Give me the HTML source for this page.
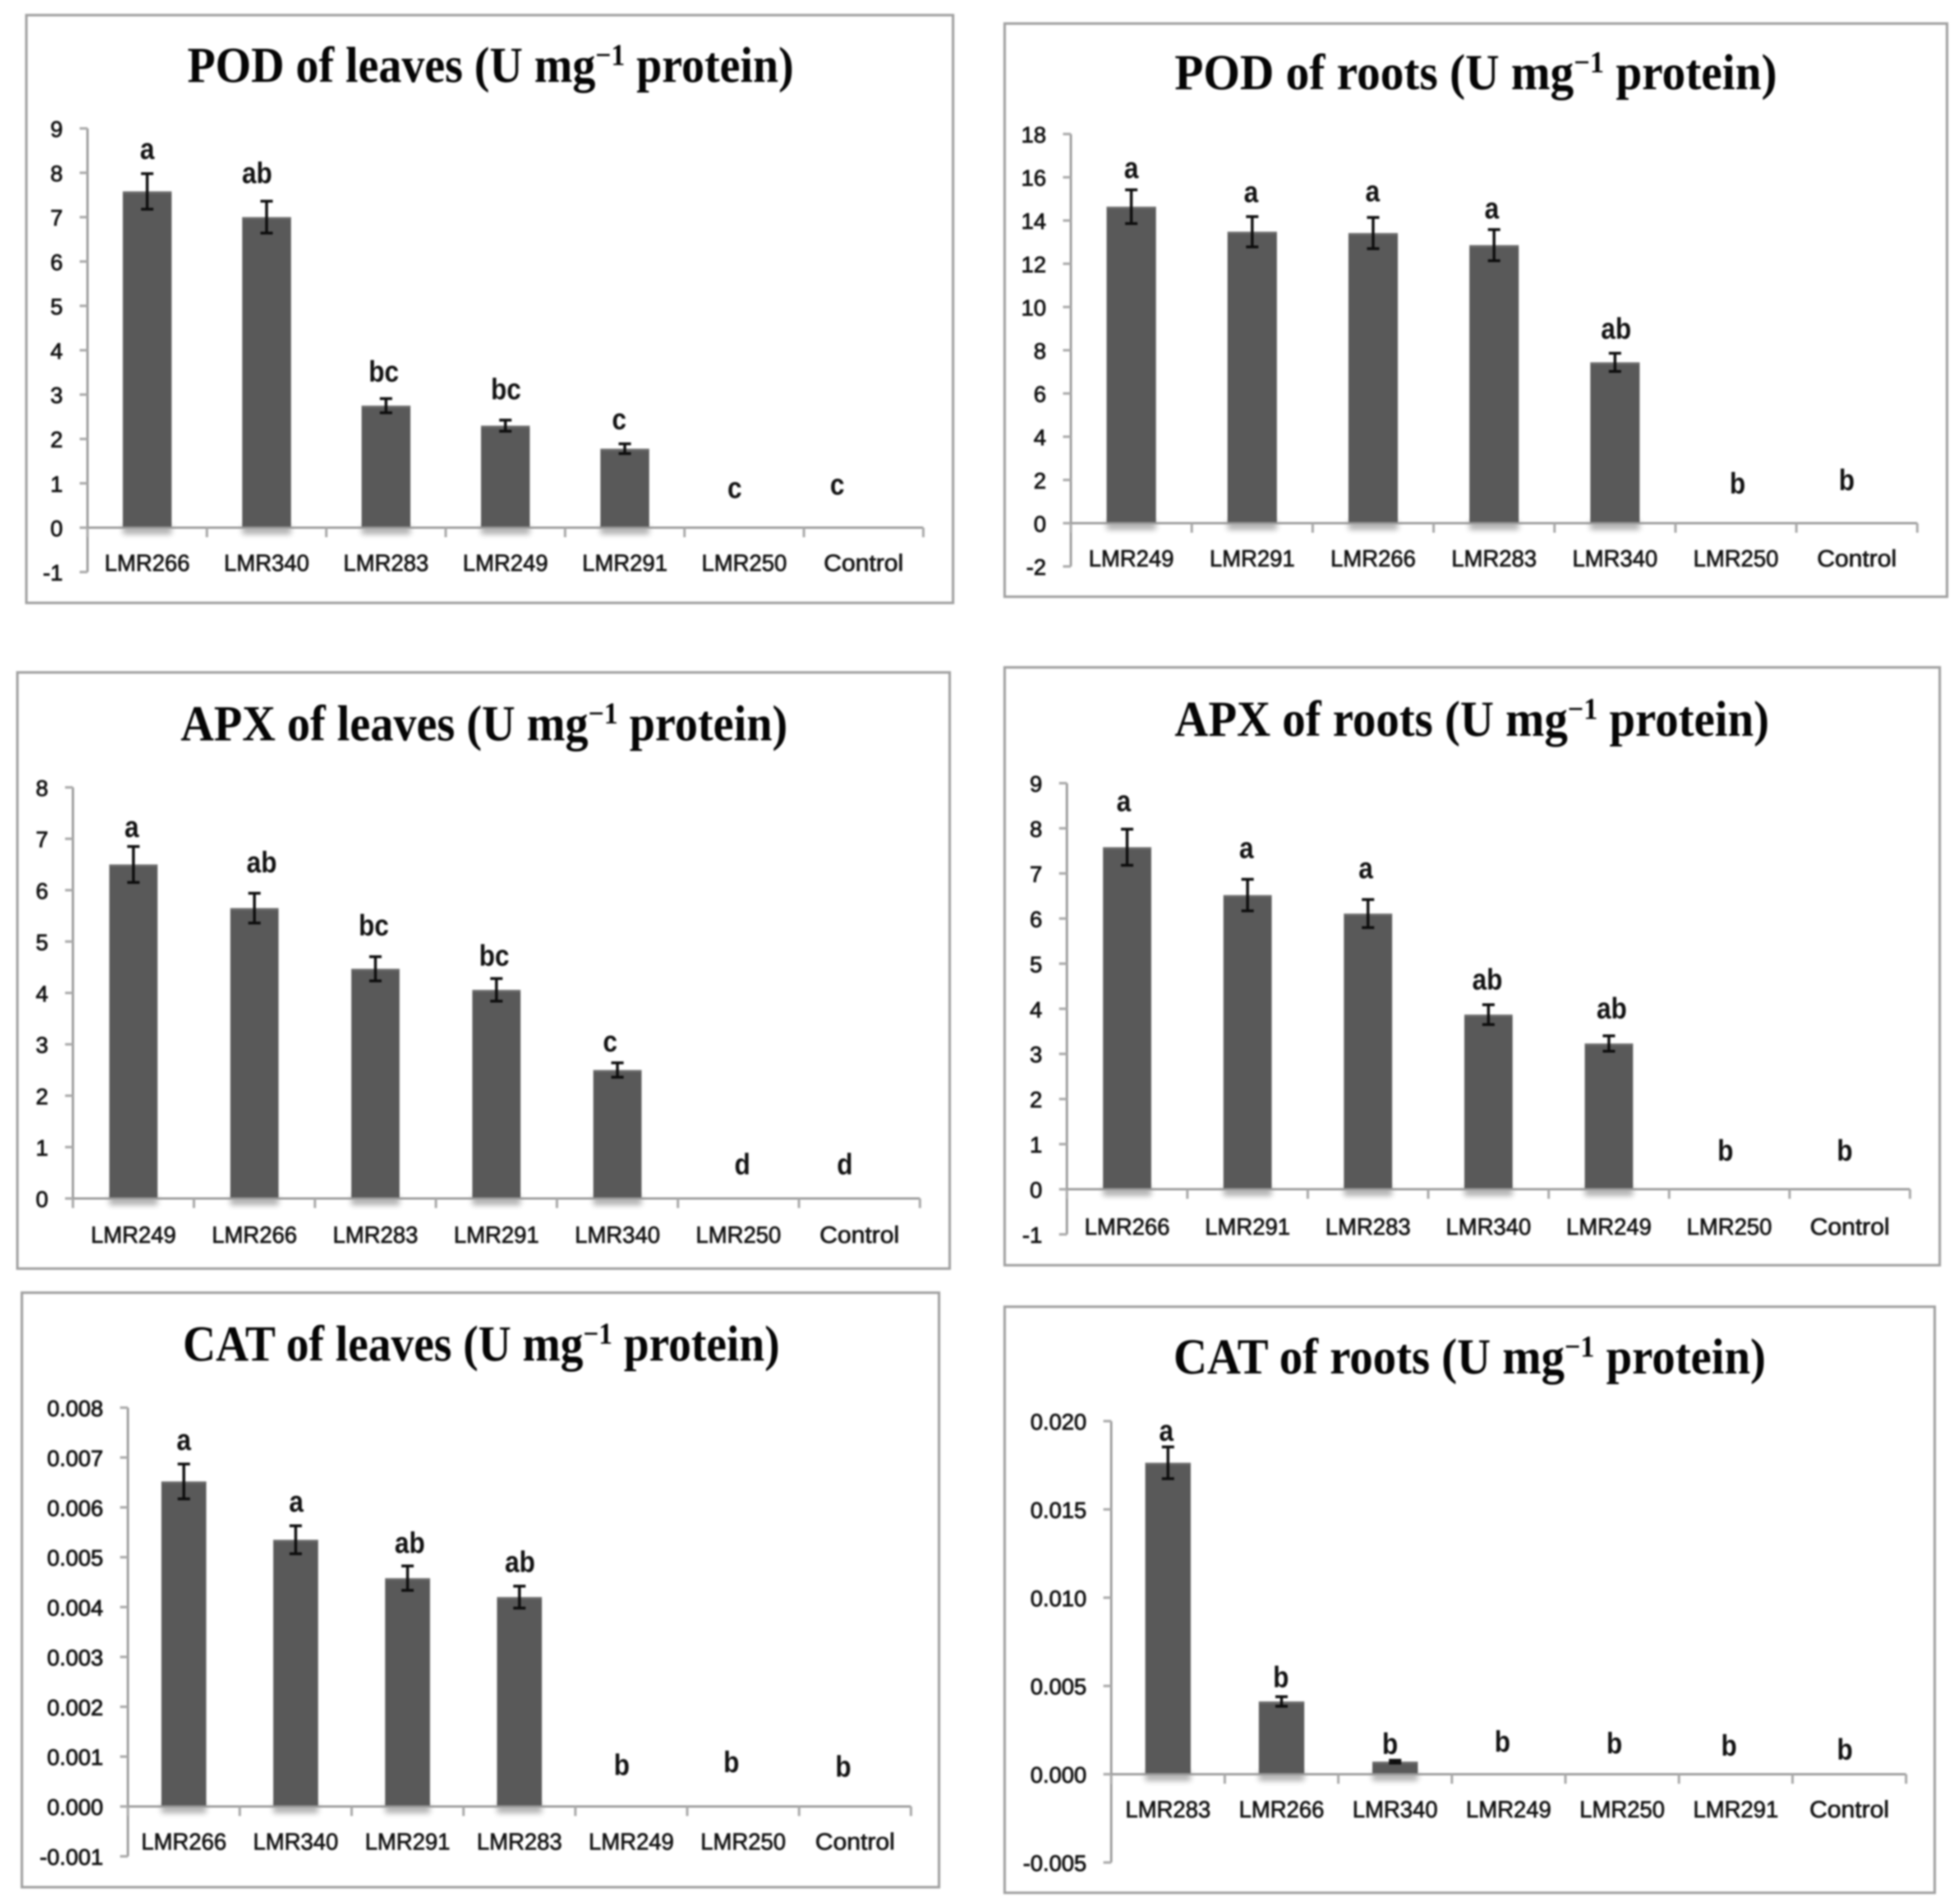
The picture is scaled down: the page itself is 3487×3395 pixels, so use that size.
<!DOCTYPE html>
<html lang="en">
<head>
<meta charset="utf-8">
<title>POD, APX and CAT of leaves and roots</title>
<style>
html,body{margin:0;padding:0;background:#fff;width:3487px;height:3395px;overflow:hidden}
#figure{display:block;filter:blur(1.5px)}
.frame{fill:#fff;stroke:#a0a0a0;stroke-width:4.5}
.title{font-family:"Liberation Serif",serif;font-weight:700;font-size:90px;fill:#050505}
.title tspan.sup{font-size:54px}
.xl{font-family:"Liberation Sans",sans-serif;font-size:42px;fill:#141414;text-anchor:middle;stroke:#141414;stroke-width:1.1}
.yl{font-family:"Liberation Sans",sans-serif;font-size:40px;fill:#111;text-anchor:end;stroke:#111;stroke-width:1.2}
.letter{font-family:"Liberation Sans",sans-serif;font-weight:700;font-size:53px;fill:#111;text-anchor:middle}
.axis{stroke:#989898;stroke-width:4;fill:none}
.tick{stroke:#aaaaaa;stroke-width:4.5;fill:none}
.bar{fill:#595959}
.bar-top{fill:#6c6c6c}
.shadow{fill:#000;opacity:.3;filter:blur(5px)}
.err{stroke:#0d0d0d;stroke-width:5;fill:none}
</style>
</head>
<body>
<svg id="figure" xmlns="http://www.w3.org/2000/svg" width="3487" height="3395" viewBox="0 0 3487 3395">
  <g id="pod-leaves">
    <rect class="frame" x="47" y="27" width="1652" height="1048"/>
    <text class="title" x="334" y="146" textLength="1081" lengthAdjust="spacingAndGlyphs">POD of leaves (U mg<tspan class="sup" dy="-30">−1</tspan><tspan dy="30"> protein)</tspan></text>
  </g>
  <g id="pod-roots">
    <rect class="frame" x="1791" y="42" width="1680" height="1022"/>
    <text class="title" x="2094" y="159" textLength="1074" lengthAdjust="spacingAndGlyphs">POD of roots (U mg<tspan class="sup" dy="-30">−1</tspan><tspan dy="30"> protein)</tspan></text>
  </g>
  <g id="apx-leaves">
    <rect class="frame" x="31" y="1199" width="1662" height="1063"/>
    <text class="title" x="322" y="1320" textLength="1082" lengthAdjust="spacingAndGlyphs">APX of leaves (U mg<tspan class="sup" dy="-30">−1</tspan><tspan dy="30"> protein)</tspan></text>
  </g>
  <g id="apx-roots">
    <rect class="frame" x="1791" y="1190" width="1667" height="1066"/>
    <text class="title" x="2094" y="1312" textLength="1060" lengthAdjust="spacingAndGlyphs">APX of roots (U mg<tspan class="sup" dy="-30">−1</tspan><tspan dy="30"> protein)</tspan></text>
  </g>
  <g id="cat-leaves">
    <rect class="frame" x="39" y="2305" width="1635" height="1060"/>
    <text class="title" x="326" y="2426" textLength="1064" lengthAdjust="spacingAndGlyphs">CAT of leaves (U mg<tspan class="sup" dy="-30">−1</tspan><tspan dy="30"> protein)</tspan></text>
  </g>
  <g id="cat-roots">
    <rect class="frame" x="1791" y="2330" width="1658" height="1045"/>
    <text class="title" x="2092" y="2449" textLength="1056" lengthAdjust="spacingAndGlyphs">CAT of roots (U mg<tspan class="sup" dy="-30">−1</tspan><tspan dy="30"> protein)</tspan></text>
  </g>
</svg>
<script>
/* POD of leaves */
const podLeavesCategories = ['LMR266','LMR340','LMR283','LMR249','LMR291','LMR250','Control'];
const podLeavesValues = [7.58, 7.0, 2.75, 2.3, 1.78, 0, 0];
const podLeavesErrors = [0.4, 0.36, 0.16, 0.125, 0.11, 0, 0];
const podLeavesLetters = ['a','ab','bc','bc','c','c','c'];
const podLeavesTicks = ['-1','0','1','2','3','4','5','6','7','8','9'];
/* POD of roots */
const podRootsCategories = ['LMR249','LMR291','LMR266','LMR283','LMR340','LMR250','Control'];
const podRootsValues = [14.64, 13.48, 13.42, 12.86, 7.44, 0, 0];
const podRootsErrors = [0.78, 0.7, 0.72, 0.72, 0.42, 0, 0];
const podRootsLetters = ['a','a','a','a','ab','b','b'];
const podRootsTicks = ['-2','0','2','4','6','8','10','12','14','16','18'];
/* APX of leaves */
const apxLeavesCategories = ['LMR249','LMR266','LMR283','LMR291','LMR340','LMR250','Control'];
const apxLeavesValues = [6.5, 5.65, 4.47, 4.06, 2.5, 0, 0];
const apxLeavesErrors = [0.35, 0.29, 0.235, 0.22, 0.14, 0, 0];
const apxLeavesLetters = ['a','ab','bc','bc','c','d','d'];
const apxLeavesTicks = ['0','1','2','3','4','5','6','7','8'];
/* APX of roots */
const apxRootsCategories = ['LMR266','LMR291','LMR283','LMR340','LMR249','LMR250','Control'];
const apxRootsValues = [7.58, 6.52, 6.11, 3.87, 3.23, 0, 0];
const apxRootsErrors = [0.4, 0.35, 0.31, 0.22, 0.17, 0, 0];
const apxRootsLetters = ['a','a','a','ab','ab','b','b'];
const apxRootsTicks = ['-1','0','1','2','3','4','5','6','7','8','9'];
/* CAT of leaves */
const catLeavesCategories = ['LMR266','LMR340','LMR291','LMR283','LMR249','LMR250','Control'];
const catLeavesValues = [0.00652, 0.00535, 0.00458, 0.0042, 0, 0, 0];
const catLeavesErrors = [0.00035, 0.00028, 0.000245, 0.00022, 0, 0, 0];
const catLeavesLetters = ['a','a','ab','ab','b','b','b'];
const catLeavesTicks = ['-0.001','0.000','0.001','0.002','0.003','0.004','0.005','0.006','0.007','0.008'];
/* CAT of roots */
const catRootsCategories = ['LMR283','LMR266','LMR340','LMR249','LMR250','LMR291','Control'];
const catRootsValues = [0.01764, 0.00412, 0.00071, 0, 0, 0, 0];
const catRootsErrors = [0.0009, 0.00027, 0.00008, 0, 0, 0, 0];
const catRootsLetters = ['a','b','b','b','b','b','b'];
const catRootsTicks = ['-0.005','0.000','0.005','0.010','0.015','0.020'];

const SVGNS = 'http://www.w3.org/2000/svg';

function makeEl(tag, parent, cls) {
  const el = document.createElementNS(SVGNS, tag);
  if (cls) el.setAttribute('class', cls);
  parent.appendChild(el);
  return el;
}
function setLine(el, x1, y1, x2, y2) {
  el.setAttribute('x1', x1);
  el.setAttribute('y1', y1);
  el.setAttribute('x2', x2);
  el.setAttribute('y2', y2);
}

function drawChart(groupId, categories, values, errors, letters, ticks, frame) {
  const g = document.getElementById(groupId);
  const tickNums = ticks.map(Number);
  const vMin = Math.min.apply(null, tickNums);
  const vMax = Math.max.apply(null, tickNums);
  const yScale = function (v) {
    return frame.bottom - (v - vMin) / (vMax - vMin) * (frame.bottom - frame.top);
  };
  const band = (frame.right - frame.left) / categories.length;
  const xScale = function (i) {
    return frame.left + band * (i + 0.5);
  };
  const zero = yScale(0);

  /* bars first, so axes sit on top of the bar feet */
  values.forEach(function (v, i) {
    if (v <= 0) return;
    const cx = xScale(i);
    const top = yScale(v);
    const shadow = makeEl('rect', g, 'shadow');
    
    
    shadow.setAttribute('x', cx - frame.barWidth / 2);
    shadow.setAttribute('y', zero - 4);
    shadow.setAttribute('width', frame.barWidth);
    shadow.setAttribute('height', 16);
    const bar = makeEl('rect', g, 'bar');
    
    
    bar.setAttribute('x', cx - frame.barWidth / 2);
    bar.setAttribute('y', top);
    bar.setAttribute('width', frame.barWidth);
    bar.setAttribute('height', zero - top);
    const sheen = makeEl('rect', g, 'bar-top');
    
    
    sheen.setAttribute('x', cx - frame.barWidth / 2);
    sheen.setAttribute('y', top);
    sheen.setAttribute('width', frame.barWidth);
    sheen.setAttribute('height', 4);
  });

  /* y axis */
  const yAxis = makeEl('line', g, 'axis');
  
  
  setLine(yAxis, frame.left, frame.top, frame.left, frame.bottom);
  ticks.forEach(function (label, i) {
    const y = yScale(tickNums[i]);
    const tick = makeEl('line', g, 'tick');
    
    
    setLine(tick, frame.left - 14, y, frame.left, y);
    const text = makeEl('text', g, 'yl');
    
    
    text.setAttribute('x', frame.left - 44);
    text.setAttribute('y', y + 15);
    text.textContent = label;
  });

  /* x axis */
  const xAxis = makeEl('line', g, 'axis');
  
  
  setLine(xAxis, frame.left, zero, frame.right, zero);
  for (let i = 0; i <= categories.length; i++) {
    const x = frame.left + band * i;
    const tick = makeEl('line', g, 'tick');
    
    
    setLine(tick, x, zero, x, zero + 17);
  }
  categories.forEach(function (name, i) {
    const text = makeEl('text', g, 'xl');
    
    
    text.setAttribute('x', xScale(i));
    text.setAttribute('y', zero + frame.labelDrop);
    text.setAttribute('textLength', name === 'Control' ? 142 : 152);
    text.setAttribute('lengthAdjust', 'spacingAndGlyphs');
    text.textContent = name;
  });

  /* error bars and significance letters */
  values.forEach(function (v, i) {
    const cx = xScale(i);
    const e = errors[i];
    if (e > 0) {
      const hi = yScale(v + e);
      const lo = yScale(v - e);
      const stem = makeEl('line', g, 'err');
      
      
      setLine(stem, cx, hi, cx, lo);
      const capTop = makeEl('line', g, 'err');
      
      
      setLine(capTop, cx - 11, hi, cx + 11, hi);
      const capBottom = makeEl('line', g, 'err');
      
      
      setLine(capBottom, cx - 11, lo, cx + 11, lo);
    }
    const text = makeEl('text', g, 'letter');
    
    
    const lx = cx + frame.letterDx[i];
    const ly = yScale(v + e) - frame.letterGap[i] + 15;
    text.setAttribute('transform', 'translate(' + lx + ',' + ly + ') scale(0.87,1)');
    text.textContent = letters[i];
  });
}

drawChart('pod-leaves', podLeavesCategories, podLeavesValues, podLeavesErrors, podLeavesLetters, podLeavesTicks,
  {left:156, right:1646, top:229, bottom:1020, barWidth:87, labelDrop:77,
   letterDx:[0,-17,-4,1,-10,-17,-47], letterGap:[41,47,45,52,41,68,74]});
drawChart('pod-roots', podRootsCategories, podRootsValues, podRootsErrors, podRootsLetters, podRootsTicks,
  {left:1909, right:3418, top:239, bottom:1010, barWidth:88, labelDrop:77,
   letterDx:[0,-2,-1,-4,2,3,-18], letterGap:[36,41,44,35,41,68,74]});
drawChart('apx-leaves', apxLeavesCategories, apxLeavesValues, apxLeavesErrors, apxLeavesLetters, apxLeavesTicks,
  {left:130, right:1640, top:1404, bottom:2137, barWidth:86, labelDrop:79,
   letterDx:[-3,13,-3,-4,-13,7,-26], letterGap:[32,52,53,38,35,58,58]});
drawChart('apx-roots', apxRootsCategories, apxRootsValues, apxRootsErrors, apxRootsLetters, apxRootsTicks,
  {left:1902, right:3405, top:1396.5, bottom:2201, barWidth:86, labelDrop:81,
   letterDx:[-6,-2,-4,-2,5,-7,-9], letterGap:[47,53,53,42,46,66,66]});
drawChart('cat-leaves', catLeavesCategories, catLeavesValues, catLeavesErrors, catLeavesLetters, catLeavesTicks,
  {left:228, right:1624, top:2510, bottom:3310, barWidth:80, labelDrop:77,
   letterDx:[0,1,4,1,-17,-21,-21], letterGap:[40,40,38,40,71,76,68]});
drawChart('cat-roots', catRootsCategories, catRootsValues, catRootsErrors, catRootsLetters, catRootsTicks,
  {left:1981, right:3398, top:2534, bottom:3321, barWidth:81, labelDrop:77,
   letterDx:[-3,-1,-9,-11,-14,-12,-8], letterGap:[26,32,26,55,52,48,41]});
</script>
</body>
</html>
